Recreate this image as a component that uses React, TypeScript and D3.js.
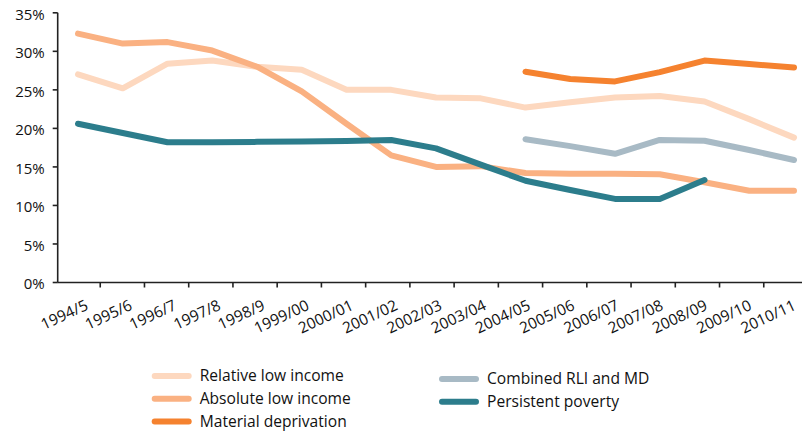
import React from "react";
import * as d3 from "d3";

const years = [
  "1994/5", "1995/6", "1996/7", "1997/8", "1998/9", "1999/00", "2000/01", "2001/02",
  "2002/03", "2003/04", "2004/05", "2005/06", "2006/07", "2007/08", "2008/09", "2009/10", "2010/11",
];

const relativeLowIncome = [27.0, 25.2, 28.4, 28.8, 28.0, 27.6, 25.0, 25.0, 24.0, 23.9, 22.7, 23.4, 24.0, 24.2, 23.5, 21.2, 18.8];
const absoluteLowIncome = [32.3, 31.0, 31.2, 30.1, 28.0, 24.8, 20.6, 16.5, 15.0, 15.1, 14.2, 14.1, 14.1, 14.05, 13.0, 11.9, 11.9];
const materialDeprivation = [null, null, null, null, null, null, null, null, null, null, 27.35, 26.4, 26.1, 27.3, 28.8, 28.35, 27.9];
const combinedRliMd = [null, null, null, null, null, null, null, null, null, null, 18.6, 17.7, 16.7, 18.5, 18.4, 17.2, 15.9];
const persistentPoverty = [20.6, 19.4, 18.2, 18.2, 18.25, 18.3, 18.35, 18.5, 17.4, 15.3, 13.2, 12.0, 10.85, 10.85, 13.3, null, null];

const yTicks = [0, 5, 10, 15, 20, 25, 30, 35];

type Series = { name: string; values: (number | null)[]; color: string };

const series: Series[] = [
  { name: "Relative low income", values: relativeLowIncome, color: "#FDD8BF" },
  { name: "Absolute low income", values: absoluteLowIncome, color: "#FAB182" },
  { name: "Material deprivation", values: materialDeprivation, color: "#F5822F" },
  { name: "Combined RLI and MD", values: combinedRliMd, color: "#A8BAC5" },
  { name: "Persistent poverty", values: persistentPoverty, color: "#2C7D8C" },
];

// legend: two columns, entries listed top to bottom
const legendCol1 = ["Relative low income", "Absolute low income", "Material deprivation"];
const legendCol2 = ["Combined RLI and MD", "Persistent poverty"];

const W = 802;
const H = 431;
const FONT = "'Open Sans', sans-serif";

export default function App() {
  const axisX = 57.7;
  const y = d3.scaleLinear().domain([0, 35]).range([282.5, 12.8]);
  const band = d3.scaleBand<string>().domain(years).range([56, 808]);
  const xPt = d3.scalePoint<string>().domain(years).range([78, 794]);

  const line = d3
    .line<number | null>()
    .defined((d) => d !== null)
    .x((_, i) => xPt(years[i]) as number)
    .y((d) => y(d as number));

  const colorOf = (name: string) => series.find((s) => s.name === name)!.color;

  const legendRow = (names: string[], x0: number, y0: number) =>
    names.map((n, i) => {
      const cy = y0 + i * 22.7;
      return (
        <g key={n}>
          <line x1={x0 + 3} x2={x0 + 37} y1={cy} y2={cy} stroke={colorOf(n)} strokeWidth={6} strokeLinecap="round" />
          <text x={x0 + 48} y={cy} dy="0.35em" fontSize={15.6} fontFamily={FONT} fill="#111">
            {n}
          </text>
        </g>
      );
    });

  return (
    <svg width={W} height={H} style={{ position: "absolute", left: 0, top: 0, background: "#fff" }}>
      {/* y axis */}
      <line x1={axisX} x2={axisX} y1={y(35)} y2={y(0)} stroke="#222" strokeWidth={1.6} />
      {yTicks.map((t) => (
        <g key={t}>
          <line x1={axisX - 5} x2={axisX} y1={y(t)} y2={y(t)} stroke="#222" strokeWidth={1.6} />
          <text x={axisX - 13} y={y(t) + 1} dy="0.38em" textAnchor="end" fontSize={15} fontFamily={FONT} fill="#111">
            {t}%
          </text>
        </g>
      ))}

      {/* x axis */}
      <line x1={axisX} x2={W} y1={y(0)} y2={y(0)} stroke="#222" strokeWidth={1.6} />
      {years.map((yr) => {
        const bx = band(yr) as number;
        const cx = bx + band.bandwidth() / 2;
        return (
          <g key={yr}>
            <line x1={bx + band.bandwidth()} x2={bx + band.bandwidth()} y1={y(0)} y2={y(0) + 5} stroke="#222" strokeWidth={1.6} />
            <text
              transform={`translate(${cx + 11},${309}) rotate(-25)`}
              textAnchor="end"
              fontSize={15.4}
              fontFamily={FONT}
              fill="#111"
            >
              {yr}
            </text>
          </g>
        );
      })}

      {/* series lines */}
      {series.map((s) => (
        <path
          key={s.name}
          d={line(s.values) || ""}
          fill="none"
          stroke={s.color}
          strokeWidth={6}
          strokeLinecap="round"
          strokeLinejoin="round"
        />
      ))}

      {/* legend */}
      {legendRow(legendCol1, 151.7, 376)}
      {legendRow(legendCol2, 439, 379)}
    </svg>
  );
}
